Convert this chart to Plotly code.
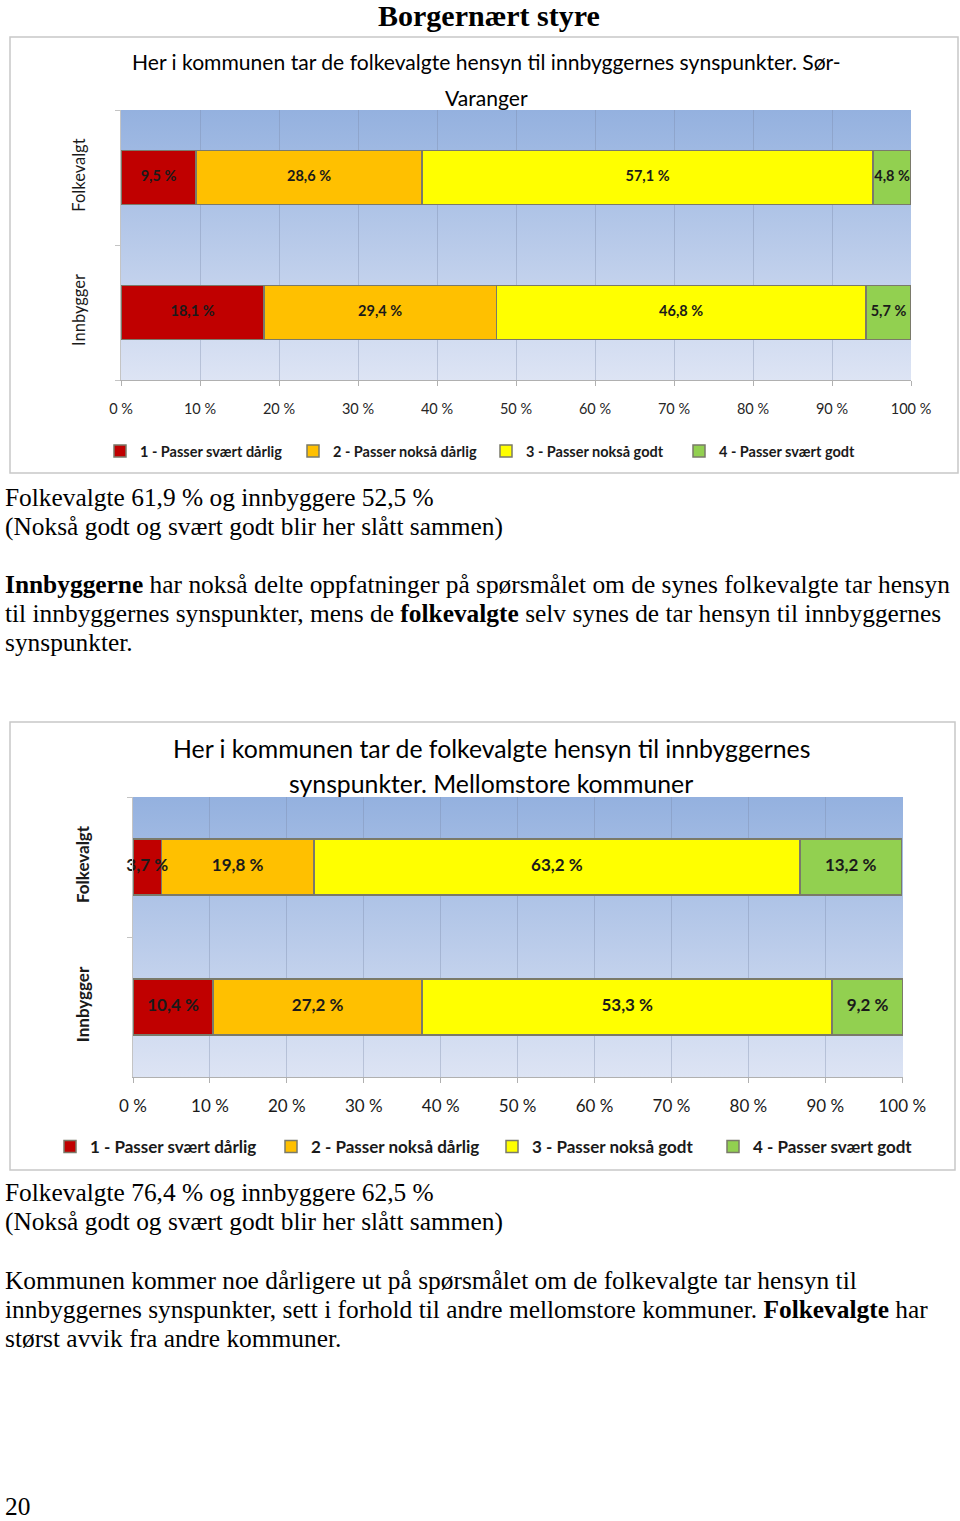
import base64
import plotly.graph_objects as go

# ---------------- data ----------------
groups = ["Innbygger", "Folkevalgt"]
series_names = ["1 - Passer svært dårlig", "2 - Passer nokså dårlig",
                "3 - Passer nokså godt", "4 - Passer svært godt"]
series_colors = ["#C00000", "#FFC000", "#FFFF00", "#92D050"]

# chart 1: Sør-Varanger  (values per series: [Innbygger, Folkevalgt])
sv_s1 = [18.1, 9.5]
sv_s2 = [29.4, 28.6]
sv_s3 = [46.8, 57.1]
sv_s4 = [5.7, 4.8]

# chart 2: Mellomstore kommuner
mk_s1 = [10.4, 3.7]
mk_s2 = [27.2, 19.8]
mk_s3 = [53.3, 63.2]
mk_s4 = [9.2, 13.2]

x_ticks = list(range(0, 101, 10))
x_ticktext = [f"{v} %" for v in x_ticks]

W, H = 960, 1521


def px_x(x):
    return x / W


def px_y(y):
    return 1 - y / H


def fmt(v):
    return f"{v:.1f}".replace(".", ",") + " %"


fig = go.Figure()

chart_defs = [
    dict(series=[sv_s1, sv_s2, sv_s3, sv_s4], xa="x", ya="y", legend="legend", lblsize=14.5),
    dict(series=[mk_s1, mk_s2, mk_s3, mk_s4], xa="x2", ya="y2", legend="legend2", lblsize=17),
]

for cd in chart_defs:
    for name, color, vals in zip(series_names, series_colors, cd["series"]):
        fig.add_trace(go.Bar(
            y=groups, x=vals, orientation="h", name=name,
            marker=dict(color=color, line=dict(color="#7A7A6A", width=1.5)),
            width=0.4, xaxis=cd["xa"], yaxis=cd["ya"], legend=cd["legend"],
            hoverinfo="skip",
        ))
    # data labels drawn on top of all bars (centred in each segment)
    cum = [0.0] * len(groups)
    lx, ly, lt = [], [], []
    for vals in cd["series"]:
        for gi, v in enumerate(vals):
            lx.append(cum[gi] + v / 2)
            ly.append(groups[gi])
            lt.append(fmt(v))
            cum[gi] += v
    fig.add_trace(go.Scatter(
        x=lx, y=ly, text=lt, mode="text", textposition="middle center",
        textfont=dict(family="Lato", size=cd["lblsize"], color="#1A1A1A", weight="bold"),
        xaxis=cd["xa"], yaxis=cd["ya"], showlegend=False, cliponaxis=False,
        hoverinfo="skip",
    ))

# plot areas (pixels)
p1 = dict(l=121, r=911, t=110, b=380)
p2 = dict(l=133, r=903, t=797, b=1077)

common_x = dict(tickvals=x_ticks, ticktext=x_ticktext,
                showgrid=True, gridcolor="rgba(120,135,165,0.35)", gridwidth=1,
                showline=True, linecolor="#B0B0B0", linewidth=1,
                ticks="outside", ticklen=5, tickcolor="#B0B0B0",
                zeroline=False, fixedrange=True, automargin=False)
common_y = dict(categoryorder="array", categoryarray=groups, range=[-0.5, 1.5],
                showgrid=False, showline=True, linecolor="#C4C4C4", linewidth=1,
                ticks="outside", ticklen=5, tickcolor="#C4C4C4", tickson="boundaries",
                tickangle=-90, zeroline=False, fixedrange=True, automargin=False)

fig.update_layout(
    width=W, height=H, margin=dict(l=0, r=0, t=0, b=0, autoexpand=False),
    paper_bgcolor="white", plot_bgcolor="rgba(0,0,0,0)",
    barmode="stack", showlegend=True,
    xaxis=dict(common_x, range=[0, 100], domain=[px_x(p1["l"]), px_x(p1["r"])], anchor="y",
               tickfont=dict(family="Lato", size=14.5, color="#262626"),
               ticklabelstandoff=11),
    yaxis=dict(common_y, domain=[px_y(p1["b"]), px_y(p1["t"])], anchor="x",
               tickfont=dict(family="Lato", size=16.5, color="#1A1A1A"),
               ticklabelstandoff=28),
    xaxis2=dict(common_x, range=[0, 100.1], domain=[px_x(p2["l"]), px_x(p2["r"])], anchor="y2",
                tickfont=dict(family="Lato", size=17, color="#1A1A1A"),
                ticklabelstandoff=9),
    yaxis2=dict(common_y, domain=[px_y(p2["b"]), px_y(p2["t"])], anchor="x2",
                tickfont=dict(family="Lato", size=17, color="#1A1A1A", weight="bold"),
                ticklabelstandoff=36),
    legend=dict(orientation="h", x=px_x(100), xanchor="left", y=px_y(451), yanchor="middle",
                entrywidth=148, entrywidthmode="pixels", traceorder="normal",
                font=dict(family="Lato", size=14.5, color="#1A1A1A", weight="bold"),
                bgcolor="rgba(0,0,0,0)"),
    legend2=dict(orientation="h", x=px_x(50), xanchor="left", y=px_y(1147), yanchor="middle",
                 entrywidth=176, entrywidthmode="pixels", traceorder="normal",
                 font=dict(family="Lato", size=17, color="#1A1A1A", weight="bold"),
                 bgcolor="rgba(0,0,0,0)"),
)

# gradient plot background (SVG linear gradient image)
grad_svg = (
    '<svg xmlns="http://www.w3.org/2000/svg" width="10" height="100" preserveAspectRatio="none">'
    '<defs><linearGradient id="g" x1="0" y1="0" x2="0" y2="1">'
    '<stop offset="0" stop-color="#94B1DF"/><stop offset="1" stop-color="#DDE4F4"/>'
    '</linearGradient></defs><rect width="10" height="100" fill="url(#g)"/></svg>'
)
grad_uri = "data:image/svg+xml;base64," + base64.b64encode(grad_svg.encode()).decode()
images = []
for xa, ya in (("x", "y"), ("x2", "y2")):
    images.append(dict(source=grad_uri, xref=f"{xa} domain", yref=f"{ya} domain",
                       x=0, y=1, sizex=1, sizey=1, sizing="stretch",
                       xanchor="left", yanchor="top", layer="below"))
fig.update_layout(images=images)

# chart frames
shapes = []
for (x0, x1, y0, y1) in ((10, 958, 37, 473), (10, 955, 722, 1170)):
    shapes.append(dict(type="rect", xref="paper", yref="paper",
                       x0=px_x(x0), x1=px_x(x1), y0=px_y(y1), y1=px_y(y0),
                       line=dict(color="#C8C8C8", width=1.5), fillcolor="rgba(0,0,0,0)",
                       layer="below"))
fig.update_layout(shapes=shapes)

annotations = []


def add_text(text, x, y, family, size, xanchor="left", bold=False):
    annotations.append(dict(text=text, x=px_x(x), y=px_y(y), xref="paper", yref="paper",
                            xanchor=xanchor, yanchor="middle", showarrow=False,
                            font=dict(family=family, size=size, color="black",
                                      weight="bold" if bold else "normal")))


add_text("Borgernært styre", 489, 15, "Liberation Serif", 30, xanchor="center", bold=True)
add_text("Her i kommunen tar de folkevalgte hensyn til innbyggernes synspunkter. Sør-",
         486, 62, "Lato", 21.1, xanchor="center")
add_text("Varanger", 486, 97, "Lato", 21.1, xanchor="center")
add_text("Her i kommunen tar de folkevalgte hensyn til innbyggernes", 491, 748, "Lato", 24.8,
         xanchor="center")
add_text("synspunkter. Mellomstore kommuner", 491, 783, "Lato", 24.8, xanchor="center")

serif = "Liberation Serif"
body = [
    ("Folkevalgte 61,9 % og innbyggere 52,5 %", 497),
    ("(Nokså godt og svært godt blir her slått sammen)", 526),
    ("<b>Innbyggerne</b> har nokså delte oppfatninger på spørsmålet om de synes folkevalgte tar hensyn", 584),
    ("til innbyggernes synspunkter, mens de <b>folkevalgte</b> selv synes de tar hensyn til innbyggernes", 613),
    ("synspunkter.", 642),
    ("Folkevalgte 76,4 % og innbyggere 62,5 %", 1192),
    ("(Nokså godt og svært godt blir her slått sammen)", 1221),
    ("Kommunen kommer noe dårligere ut på spørsmålet om de folkevalgte tar hensyn til", 1280),
    ("innbyggernes synspunkter, sett i forhold til andre mellomstore kommuner. <b>Folkevalgte</b> har", 1309),
    ("størst avvik fra andre kommuner.", 1338),
    ("20", 1506),
]
for t, y in body:
    add_text(t, 3, y, serif, 25.4)

fig.update_layout(annotations=annotations)

fig.write_html("out.html", config={"displayModeBar": False},
               post_script="document.body.style.margin='0';")
